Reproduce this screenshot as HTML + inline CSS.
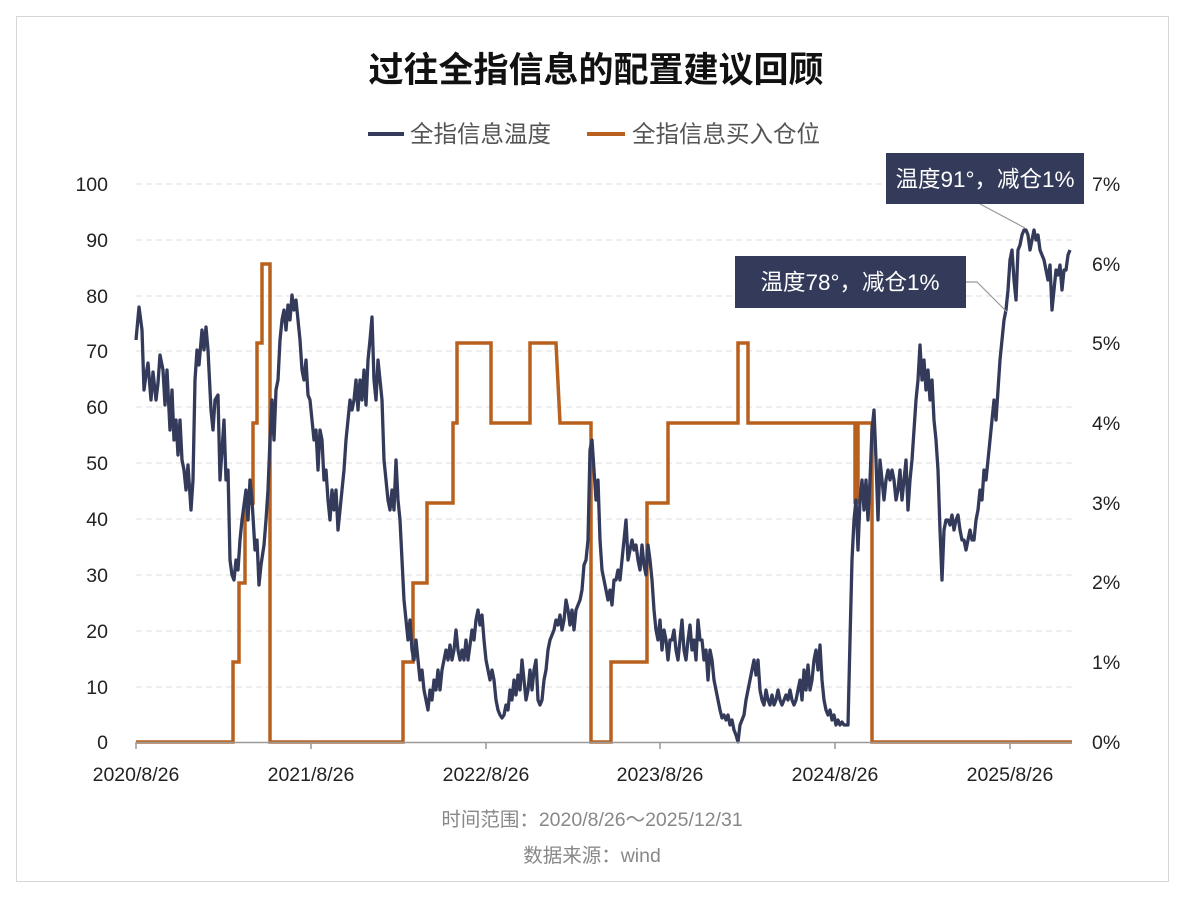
<!DOCTYPE html>
<html><head><meta charset="utf-8"><style>
body{margin:0;background:#fff;}
svg text{font-family:"Liberation Sans","Noto Sans CJK SC",sans-serif;}
</style></head><body>
<svg width="1192" height="898" viewBox="0 0 1192 898" xmlns="http://www.w3.org/2000/svg">
<rect x="16.5" y="16.5" width="1152" height="865" fill="#fff" stroke="#d6d6d6"/>
<text x="596" y="82" text-anchor="middle" font-size="35" font-weight="bold" fill="#111">过往全指信息的配置建议回顾</text>
<line x1="368" y1="134" x2="404" y2="134" stroke="#333a5a" stroke-width="4"/>
<text x="410" y="142" font-size="23.5" fill="#555">全指信息温度</text>
<line x1="587" y1="134" x2="625" y2="134" stroke="#b8611f" stroke-width="4"/>
<text x="632" y="142" font-size="23.5" fill="#555">全指信息买入仓位</text>
<g stroke="#ddd" stroke-dasharray="6,4" stroke-width="1">
<line x1="136" x2="1072" y1="184" y2="184"/><line x1="136" x2="1072" y1="240" y2="240"/><line x1="136" x2="1072" y1="296" y2="296"/><line x1="136" x2="1072" y1="351" y2="351"/><line x1="136" x2="1072" y1="407" y2="407"/><line x1="136" x2="1072" y1="463" y2="463"/><line x1="136" x2="1072" y1="519" y2="519"/><line x1="136" x2="1072" y1="575" y2="575"/><line x1="136" x2="1072" y1="631" y2="631"/><line x1="136" x2="1072" y1="687" y2="687"/>
</g>
<g font-size="19.5" fill="#222" text-anchor="end">
<text x="108" y="191">100</text><text x="108" y="247">90</text><text x="108" y="303">80</text><text x="108" y="358">70</text><text x="108" y="414">60</text><text x="108" y="470">50</text><text x="108" y="526">40</text><text x="108" y="582">30</text><text x="108" y="638">20</text><text x="108" y="694">10</text><text x="108" y="749">0</text>
</g>
<g font-size="19.5" fill="#222">
<text x="1092" y="191">7%</text><text x="1092" y="271">6%</text><text x="1092" y="350">5%</text><text x="1092" y="430">4%</text><text x="1092" y="510">3%</text><text x="1092" y="589">2%</text><text x="1092" y="669">1%</text><text x="1092" y="749">0%</text>
</g>
<g font-size="19.5" fill="#222" text-anchor="middle">
<text x="136" y="781">2020/8/26</text><text x="311" y="781">2021/8/26</text><text x="486" y="781">2022/8/26</text><text x="660" y="781">2023/8/26</text><text x="835" y="781">2024/8/26</text><text x="1010" y="781">2025/8/26</text>
</g>
<path d="M136,742H233V662H239V583H245V503H253V423H257V343H262V264H270V742H403V662H413V583H427V503H453V423H457V343H491V423H530V343H556L560,423H591V742H611V662H647V503H668V423H738V343H748V423H855V502H858V423H872V742H1072" fill="none" stroke="#b8611f" stroke-width="3.5"/>
<path d="M136,340L139,307L142,330L144,390L146,375L148,363L151,400L153,372L156,400L158,383L160,355L163,370L165,405L167,370L170,430L172,390L174,440L176,420L178,455L180,420L182,460L184,470L186,490L188,465L191,510L193,480L195,380L197,350L199,365L202,330L204,350L206,327L208,350L211,410L213,430L215,400L218,395L220,480L222,450L224,420L226,480L228,470L230,560L232,575L234,580L236,560L238,570L240,540L242,520L244,505L246,490L248,520L250,480L252,500L255,550L257,540L259,585L261,565L264,545L266,520L268,490L270,440L272,400L274,440L276,390L278,380L280,340L282,320L284,310L286,330L288,305L290,320L292,295L294,310L296,300L298,320L300,340L302,370L304,380L306,360L308,395L310,400L312,420L314,440L316,430L318,470L320,430L322,440L324,480L326,470L328,500L330,520L332,490L334,510L336,490L338,530L340,510L342,490L344,470L346,440L348,420L350,400L352,410L354,400L356,380L358,410L360,380L362,400L364,370L366,405L368,360L370,340L372,317L374,380L376,400L378,360L380,380L382,400L384,460L386,480L388,500L390,510L392,490L394,510L396,460L398,500L400,520L402,560L404,600L406,620L408,640L410,620L412,650L414,660L416,640L418,660L420,680L422,670L424,690L426,700L428,710L430,690L432,700L434,680L436,690L438,670L440,690L442,670L444,660L446,650L448,660L450,645L452,660L454,650L456,630L458,650L460,660L462,650L464,660L466,640L468,660L470,645L472,630L474,640L476,620L478,610L480,625L482,615L484,640L486,660L488,670L490,680L492,670L494,680L496,700L498,710L500,715L502,718L504,715L506,705L508,710L510,690L512,700L514,680L516,695L518,675L520,690L522,660L524,680L526,700L528,690L530,670L532,690L534,670L536,660L538,700L540,705L542,700L544,680L546,670L548,650L550,640L552,635L554,630L556,620L558,625L560,615L562,630L564,620L566,600L568,610L570,625L572,610L574,630L576,610L578,605L580,600L582,590L584,565L586,560L588,540L590,450L592,440L594,470L596,500L598,480L600,540L602,570L604,580L606,590L608,600L610,590L612,605L614,580L616,580L618,570L620,580L622,560L624,540L626,520L628,560L630,550L632,540L634,550L636,545L638,560L640,570L642,545L644,565L646,575L648,545L650,560L652,580L654,610L656,630L658,640L660,620L662,650L664,630L666,640L668,660L670,640L672,640L674,630L676,650L678,660L680,640L682,620L684,650L686,660L688,640L690,625L692,650L694,640L696,660L698,620L700,640L702,640L704,660L706,650L708,680L710,650L712,660L714,680L716,690L718,700L720,710L722,718L724,715L726,720L728,715L730,725L732,720L734,730L736,735L738,742L740,725L742,720L744,715L746,700L748,690L750,680L752,670L754,660L756,675L758,660L760,690L762,700L764,705L766,690L768,700L770,705L772,695L774,705L776,700L778,690L780,700L782,705L784,700L786,695L788,700L790,690L792,700L794,705L796,700L798,690L800,680L802,700L804,670L806,690L808,665L810,690L812,680L814,660L816,650L818,670L820,645L822,680L824,700L826,710L828,715L830,710L832,720L834,715L836,725L838,720L840,725L842,722L844,725L846,725L848,725L850,640L852,560L854,520L856,500L858,550L860,500L862,480L864,510L866,480L868,520L870,480L872,430L874,410L876,460L878,520L880,460L882,480L884,500L886,480L888,470L890,480L892,470L894,480L896,500L898,490L900,470L902,500L904,480L906,460L908,510L910,480L912,460L914,430L916,400L918,380L920,345L922,380L924,360L926,390L928,370L930,400L932,380L934,420L936,440L938,470L940,530L942,580L944,530L946,520L948,520L950,525L952,515L954,530L956,520L958,515L960,530L962,540L964,540L966,550L968,540L970,530L972,540L974,540L976,520L978,510L980,490L982,500L984,470L986,480L988,460L990,440L992,420L994,400L996,420L998,390L1000,360L1002,340L1004,320L1006,310L1008,290L1010,260L1012,250L1014,280L1016,300L1018,250L1020,245L1022,235L1024,230L1026,230L1028,235L1030,250L1032,240L1034,230L1036,240L1038,235L1040,250L1042,255L1044,260L1046,270L1048,280L1050,265L1052,310L1054,290L1056,270L1058,275L1060,265L1062,290L1064,270L1066,270L1068,255L1070,250" fill="none" stroke="#333a5a" stroke-width="3.3" stroke-linejoin="round"/>
<line x1="136" y1="742.5" x2="1072" y2="742.5" stroke="#999" stroke-width="1.5"/>
<g stroke="#999" stroke-width="1.5"><line x1="136" x2="136" y1="742" y2="749"/><line x1="311" x2="311" y1="742" y2="749"/><line x1="486" x2="486" y1="742" y2="749"/><line x1="660" x2="660" y1="742" y2="749"/><line x1="835" x2="835" y1="742" y2="749"/><line x1="1010" x2="1010" y1="742" y2="749"/></g>
<polyline points="980,204 1025,228" fill="none" stroke="#999" stroke-width="1.2"/>
<polyline points="966,282 977,282 1007,312" fill="none" stroke="#999" stroke-width="1.2"/>
<rect x="886" y="153" width="198" height="51" fill="#333a5a"/>
<text x="985" y="187" text-anchor="middle" font-size="22.5" fill="#fff">温度91°，减仓1%</text>
<rect x="735" y="256" width="231" height="52" fill="#333a5a"/>
<text x="850" y="290" text-anchor="middle" font-size="22.5" fill="#fff">温度78°，减仓1%</text>
<text x="592" y="826" text-anchor="middle" font-size="19.5" fill="#888">时间范围：2020/8/26～2025/12/31</text>
<text x="592" y="862" text-anchor="middle" font-size="19.5" fill="#888">数据来源：wind</text>
</svg>
</body></html>
